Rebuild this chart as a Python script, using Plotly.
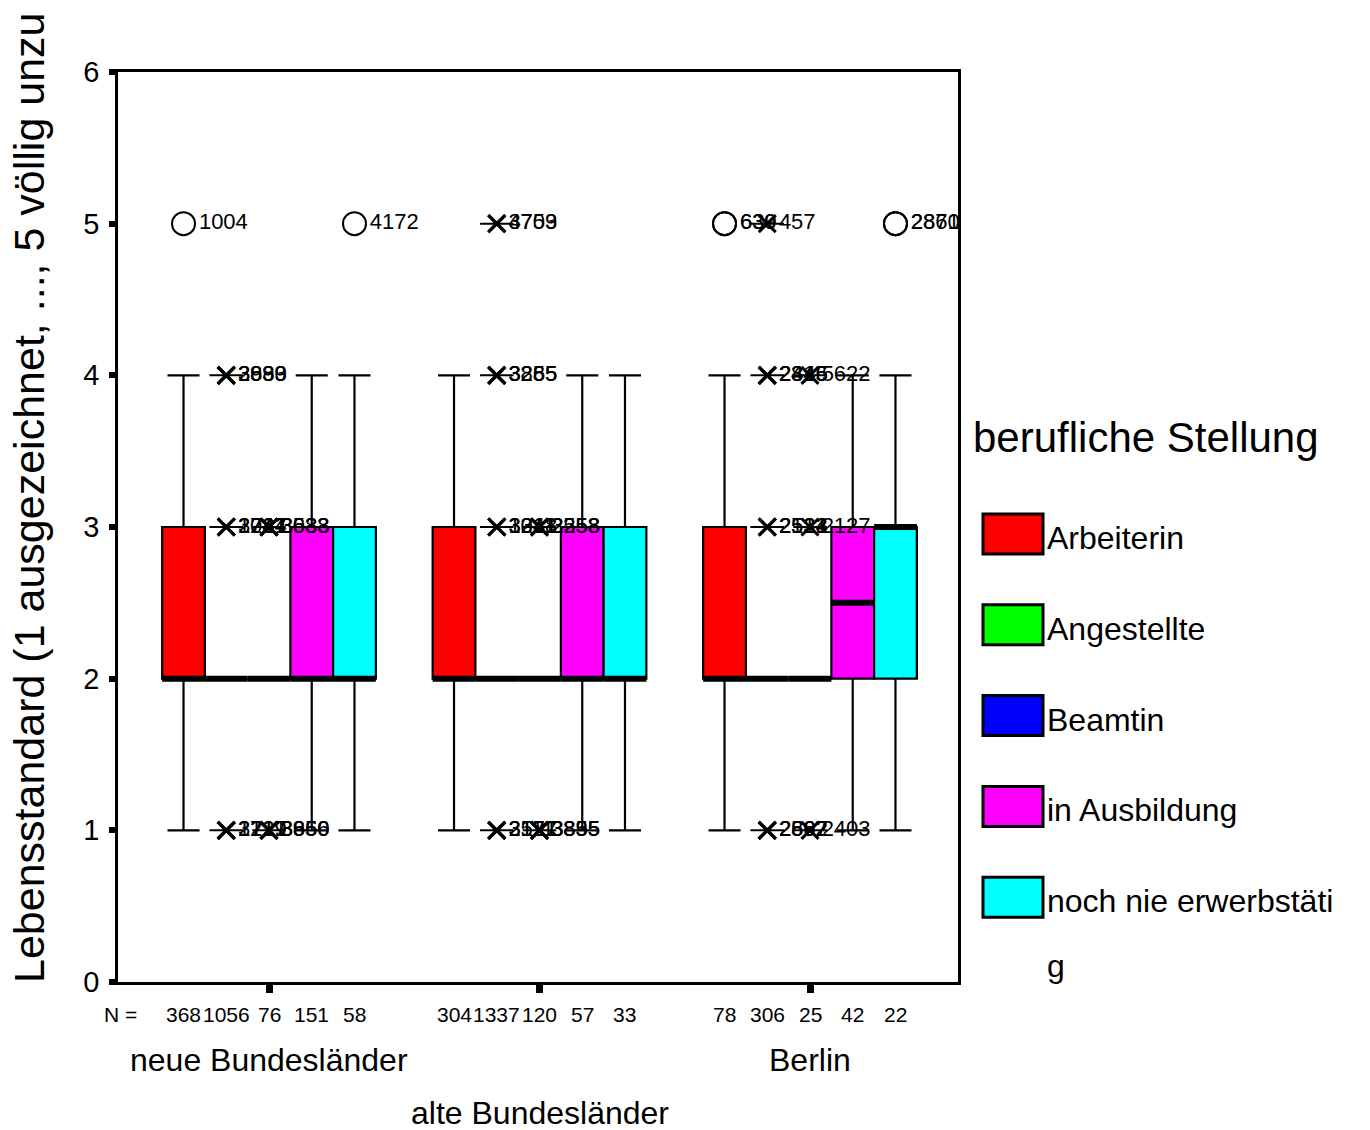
import plotly.graph_objects as go

# ---------------- data ----------------
regions = ["neue Bundesländer", "alte Bundesländer", "Berlin"]
stellung = ["Arbeiterin", "Angestellte", "Beamtin", "in Ausbildung", "noch nie erwerbstätig"]
colors = ["#FF0000", "#00FF00", "#0000FF", "#FF00FF", "#00FFFF"]

n_counts = [[368, 1056, 76, 151, 58],
            [304, 1337, 120, 57, 33],
            [78, 306, 25, 42, 22]]
q1 = [[2, 2, 2, 2, 2], [2, 2, 2, 2, 2], [2, 2, 2, 2, 2]]
median = [[2, 2, 2, 2, 2], [2, 2, 2, 2, 2], [2, 2, 2, 2.5, 3]]
q3 = [[3, 2, 2, 3, 3], [3, 2, 2, 3, 3], [3, 2, 2, 3, 3]]
lowerfence = [[1, 2, 2, 1, 1], [1, 2, 2, 1, 1], [1, 2, 2, 1, 1]]
upperfence = [[4, 2, 2, 4, 4], [4, 2, 2, 4, 4], [4, 2, 2, 4, 4]]

# outliers: (region index, stellung index, value, case labels)
circle_outliers = [
    (0, 0, 5, ["1004"]),
    (0, 4, 5, ["4172"]),
    (2, 0, 5, ["630", "639"]),
    (2, 4, 5, ["2870", "2861"]),
]
extreme_outliers = [
    (0, 2, 3, ["3033", "3688", "3533"]),
    (0, 2, 1, ["3950", "3856", "3660"]),
    (0, 1, 4, ["3833", "2999", "3680"]),
    (0, 1, 3, ["3041", "2787", "1214"]),
    (0, 1, 1, ["3121", "2719", "1217"]),
    (1, 2, 3, ["2253", "2258", "3558"]),
    (1, 2, 1, ["3835", "3895", "3855"]),
    (1, 1, 5, ["4759", "3703"]),
    (1, 1, 4, ["3855", "3285", "3265"]),
    (1, 1, 3, ["3041", "3318", "1211"]),
    (1, 1, 1, ["3121", "3577", "2111"]),
    (2, 2, 4, ["5622"]),
    (2, 2, 3, ["2127"]),
    (2, 2, 1, ["2403"]),
    (2, 1, 5, ["457"]),
    (2, 1, 4, ["2345", "2816", "2445"]),
    (2, 1, 3, ["2121", "2534", "2513"]),
    (2, 1, 1, ["2567", "2862", "2692"]),
]

y_ticks = [0, 1, 2, 3, 4, 5, 6]

# ---------------- layout helpers ----------------
BW = 0.158  # box width in x units
def pos(r, s):
    return (r + 1) + (s - 2) * BW

FONT = "Arial, Liberation Sans, sans-serif"
fig = go.Figure()

for r in range(len(regions)):
    for s in range(len(stellung)):
        x = pos(r, s)
        fig.add_trace(go.Box(
            x=[x], q1=[q1[r][s]], median=[median[r][s]], q3=[q3[r][s]],
            lowerfence=[lowerfence[r][s]], upperfence=[upperfence[r][s]],
            width=BW, whiskerwidth=0.75, fillcolor=colors[s],
            line=dict(color="black", width=2.2), boxpoints=False,
            hoverinfo="skip"))

# thick median lines
for r in range(len(regions)):
    for s in range(len(stellung)):
        x = pos(r, s)
        fig.add_trace(go.Scatter(
            x=[x - BW / 2, x + BW / 2], y=[median[r][s], median[r][s]],
            mode="lines", line=dict(color="black", width=6), hoverinfo="skip"))

# outliers (circles)
for (r, s, v, labels) in circle_outliers:
    for lab in labels:
        fig.add_trace(go.Scatter(
            x=[pos(r, s)], y=[v], mode="markers+text", text=[lab],
            textposition="middle right",
            textfont=dict(family=FONT, size=22, color="black"),
            marker=dict(symbol="circle-open", size=23, color="black",
                        line=dict(width=2, color="black")),
            hoverinfo="skip"))

# extremes (asterisk-like: x plus horizontal bar)
for (r, s, v, labels) in extreme_outliers:
    fig.add_trace(go.Scatter(
        x=[pos(r, s)], y=[v], mode="markers",
        marker=dict(symbol="line-ew-open", size=24, color="black",
                    line=dict(width=2, color="black")),
        hoverinfo="skip"))
    for lab in labels:
        fig.add_trace(go.Scatter(
            x=[pos(r, s)], y=[v], mode="markers+text", text=[lab],
            textposition="middle right",
            textfont=dict(family=FONT, size=22, color="black"),
            marker=dict(symbol="x-thin-open", size=17, color="black",
                        line=dict(width=3, color="black")),
            hoverinfo="skip"))

# ---------------- annotations ----------------
L, R, T, B = 118, 958, 72, 982
W_PX, H_PX = R - L, B - T
def xp(px):
    return (px - L) / W_PX
def yp(py):
    return (B - py) / H_PX

ann = []
# N row
ann.append(dict(x=xp(120), y=yp(1014), xref="paper", yref="paper", text="N =",
                xanchor="center", yanchor="middle",
                showarrow=False, font=dict(family=FONT, size=21, color="black")))
for r in range(len(regions)):
    for s in range(len(stellung)):
        ann.append(dict(x=pos(r, s), y=yp(1014), xref="x", yref="paper",
                        text=str(n_counts[r][s]), showarrow=False,
                        xanchor="center", yanchor="middle",
                        font=dict(family=FONT, size=21, color="black")))
# group labels (staggered)
label_rows = [1060, 1113, 1060]
for r, name in enumerate(regions):
    ann.append(dict(x=r + 1, y=yp(label_rows[r]), xref="x", yref="paper",
                    text=name, showarrow=False, xanchor="center", yanchor="middle",
                    font=dict(family=FONT, size=32, color="black")))
# y title
ann.append(dict(x=xp(29), y=yp(498), xref="paper", yref="paper",
                text="Lebensstandard (1 ausgezeichnet, ..., 5 völlig unzu",
                textangle=-90, showarrow=False, xanchor="center", yanchor="middle",
                font=dict(family=FONT, size=43, color="black")))
# legend
ann.append(dict(x=xp(971), y=yp(437), xref="paper", yref="paper",
                text="berufliche Stellung", xanchor="left", yanchor="middle",
                showarrow=False,
                font=dict(family=FONT, size=42, color="black")))
shapes = []
legend_text = ["Arbeiterin", "Angestellte", "Beamtin", "in Ausbildung", "noch nie erwerbstäti"]
for i, (lab, col) in enumerate(zip(legend_text, colors)):
    top = 514 + i * 90.8
    shapes.append(dict(type="rect", xref="paper", yref="paper",
                       x0=xp(983), x1=xp(1043), y0=yp(top), y1=yp(top + 40),
                       fillcolor=col, line=dict(color="black", width=3)))
    ann.append(dict(x=xp(1045), y=yp(top + 24), xref="paper", yref="paper",
                    text=lab, xanchor="left", yanchor="middle", showarrow=False,
                    font=dict(family=FONT, size=32, color="black")))
ann.append(dict(x=xp(1045), y=yp(966), xref="paper", yref="paper",
                text="g", xanchor="left", yanchor="middle", showarrow=False,
                font=dict(family=FONT, size=32, color="black")))

fig.update_layout(
    width=1370, height=1130,
    margin=dict(l=L, r=1370 - R, t=T, b=1130 - B),
    paper_bgcolor="white", plot_bgcolor="white",
    showlegend=False,
    font=dict(family=FONT, color="black"),
    annotations=ann, shapes=shapes,
    xaxis=dict(range=[1 + (L - 269) / 270.5, 1 + (R - 269) / 270.5],
               tickvals=[1, 2, 3], ticktext=["", "", ""],
               ticks="outside", ticklen=8, tickwidth=7, tickcolor="black",
               showline=True, linecolor="black", linewidth=2.5, mirror=True,
               showgrid=False, zeroline=False),
    yaxis=dict(range=[0, 6], tickvals=y_ticks,
               ticks="outside", ticklen=6, tickwidth=6, tickcolor="black",
               ticklabelstandoff=4,
               tickfont=dict(family=FONT, size=29, color="black"),
               showline=True, linecolor="black", linewidth=2.5, mirror=True,
               showgrid=False, zeroline=False),
)

fig.write_html("out.html")
